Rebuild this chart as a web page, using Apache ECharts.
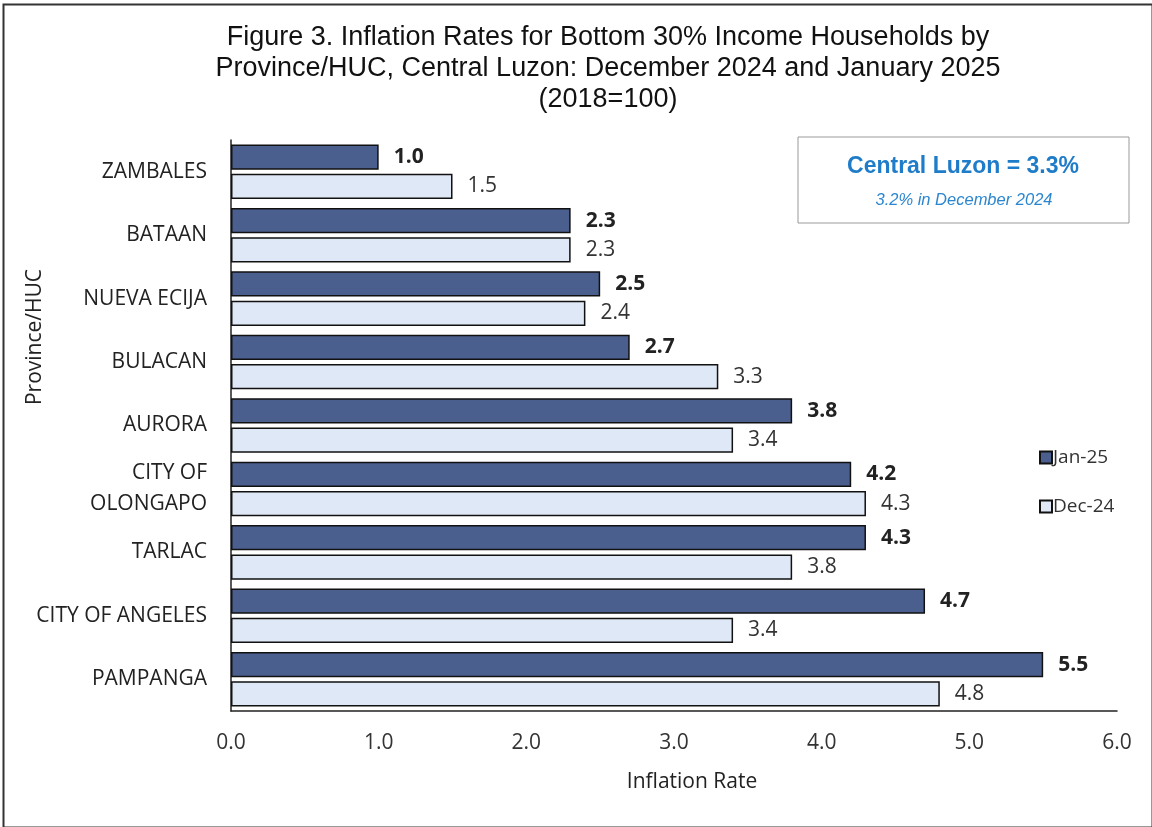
<!DOCTYPE html>
<html><head><meta charset="utf-8">
<script src="https://cdn.jsdelivr.net/npm/echarts@6/dist/echarts.min.js"></script>
<style>html,body{margin:0;padding:0;background:#fff}#c{width:1152px;height:827px}</style>
</head><body><div id="c"></div>
<script>
const categories = ["ZAMBALES","BATAAN","NUEVA ECIJA","BULACAN","AURORA","CITY OF\nOLONGAPO","TARLAC","CITY OF ANGELES","PAMPANGA"];
const jan25 = [1.0, 2.3, 2.5, 2.7, 3.8, 4.2, 4.3, 4.7, 5.5];
const dec24 = [1.5, 2.3, 2.4, 3.3, 3.4, 4.3, 3.8, 3.4, 4.8];
const seriesNames = ["Jan-25", "Dec-24"];
const titleText = "Figure 3. Inflation Rates for Bottom 30% Income Households by\nProvince/HUC, Central Luzon: December 2024 and January 2025\n(2018=100)";
const xAxisName = "Inflation Rate";
const yAxisName = "Province/HUC";
const boxLine1 = "Central Luzon = 3.3%";
const boxLine2 = "3.2% in December 2024";

const lab = "'Open Sans', Lato, sans-serif";
const chart = echarts.init(document.getElementById('c'));
chart.setOption({
  animation: false,
  backgroundColor: '#fff',
  legend: {
    orient: 'vertical', left: 1034, top: 443, itemGap: 30,
    icon: 'rect', itemWidth: 12, itemHeight: 12,
    textStyle: {fontFamily: lab, fontSize: 19, color: '#333', padding: [0,0,0,-4]},
    data: seriesNames
  },
  grid: {left: 231, right: 35, top: 140, bottom: 116, containLabel: false},
  xAxis: {
    type: 'value', min: 0, max: 6, interval: 1,
    axisLine: {show: true, lineStyle: {color: '#222', width: 1.5}},
    axisTick: {show: false},
    splitLine: {show: false},
    axisLabel: {fontFamily: lab, fontSize: 21, color: '#333', margin: 22, formatter: v => v.toFixed(1)}
  },
  yAxis: {
    type: 'category', data: categories, inverse: true,
    axisLine: {show: true, lineStyle: {color: '#222', width: 1.5}},
    axisTick: {show: false},
    axisLabel: {fontFamily: lab, fontSize: 21, color: '#222', margin: 24, lineHeight: 31, align: 'right'}
  },
  series: [
    {
      name: seriesNames[0], type: 'bar', data: jan25,
      barCategoryGap: '14%', barGap: '16%',
      itemStyle: {color: '#4b5f8f', borderColor: '#111', borderWidth: 1.5},
      label: {show: true, position: 'right', distance: 15, fontFamily: lab, fontSize: 21, fontWeight: 'bold', color: '#222', formatter: p => p.value.toFixed(1)}
    },
    {
      name: seriesNames[1], type: 'bar', data: dec24,
      itemStyle: {color: '#dfe8f6', borderColor: '#111', borderWidth: 1.5},
      label: {show: true, position: 'right', distance: 15, fontFamily: lab, fontSize: 21, color: '#333', formatter: p => p.value.toFixed(1)}
    }
  ],
  graphic: [
    {type: 'rect', left: 1, top: 2, shape: {width: 1149, height: 823}, style: {fill: 'none', stroke: '#333', lineWidth: 2}, silent: true},
    {type: 'text', style: {text: titleText, x: 608, y: 22, align: 'center', verticalAlign: 'top', lineHeight: 31, fill: '#111', font: "27px 'Liberation Sans', Arial, sans-serif"}},
    {type: 'text', style: {text: xAxisName, x: 692, y: 782, align: 'center', verticalAlign: 'middle', fill: '#222', font: "21px 'Open Sans', sans-serif"}},
    {type: 'text', x: 35, y: 337, rotation: Math.PI / 2, style: {text: yAxisName, x: 0, y: 0, align: 'center', verticalAlign: 'middle', fill: '#222', font: "21px 'Open Sans', sans-serif"}},
    {type: 'rect', shape: {x: 798, y: 137, width: 331, height: 86}, style: {fill: '#fff', stroke: '#999', lineWidth: 1}},
    {type: 'text', style: {text: boxLine1, x: 963, y: 167, align: 'center', verticalAlign: 'middle', fill: '#1f7cc8', font: "bold 23px 'Liberation Sans', Arial, sans-serif"}},
    {type: 'text', style: {text: boxLine2, x: 964, y: 200, align: 'center', verticalAlign: 'middle', fill: '#2b86cf', font: "italic 16.5px 'Liberation Sans', Arial, sans-serif"}}
  ]
});
</script></body></html>
